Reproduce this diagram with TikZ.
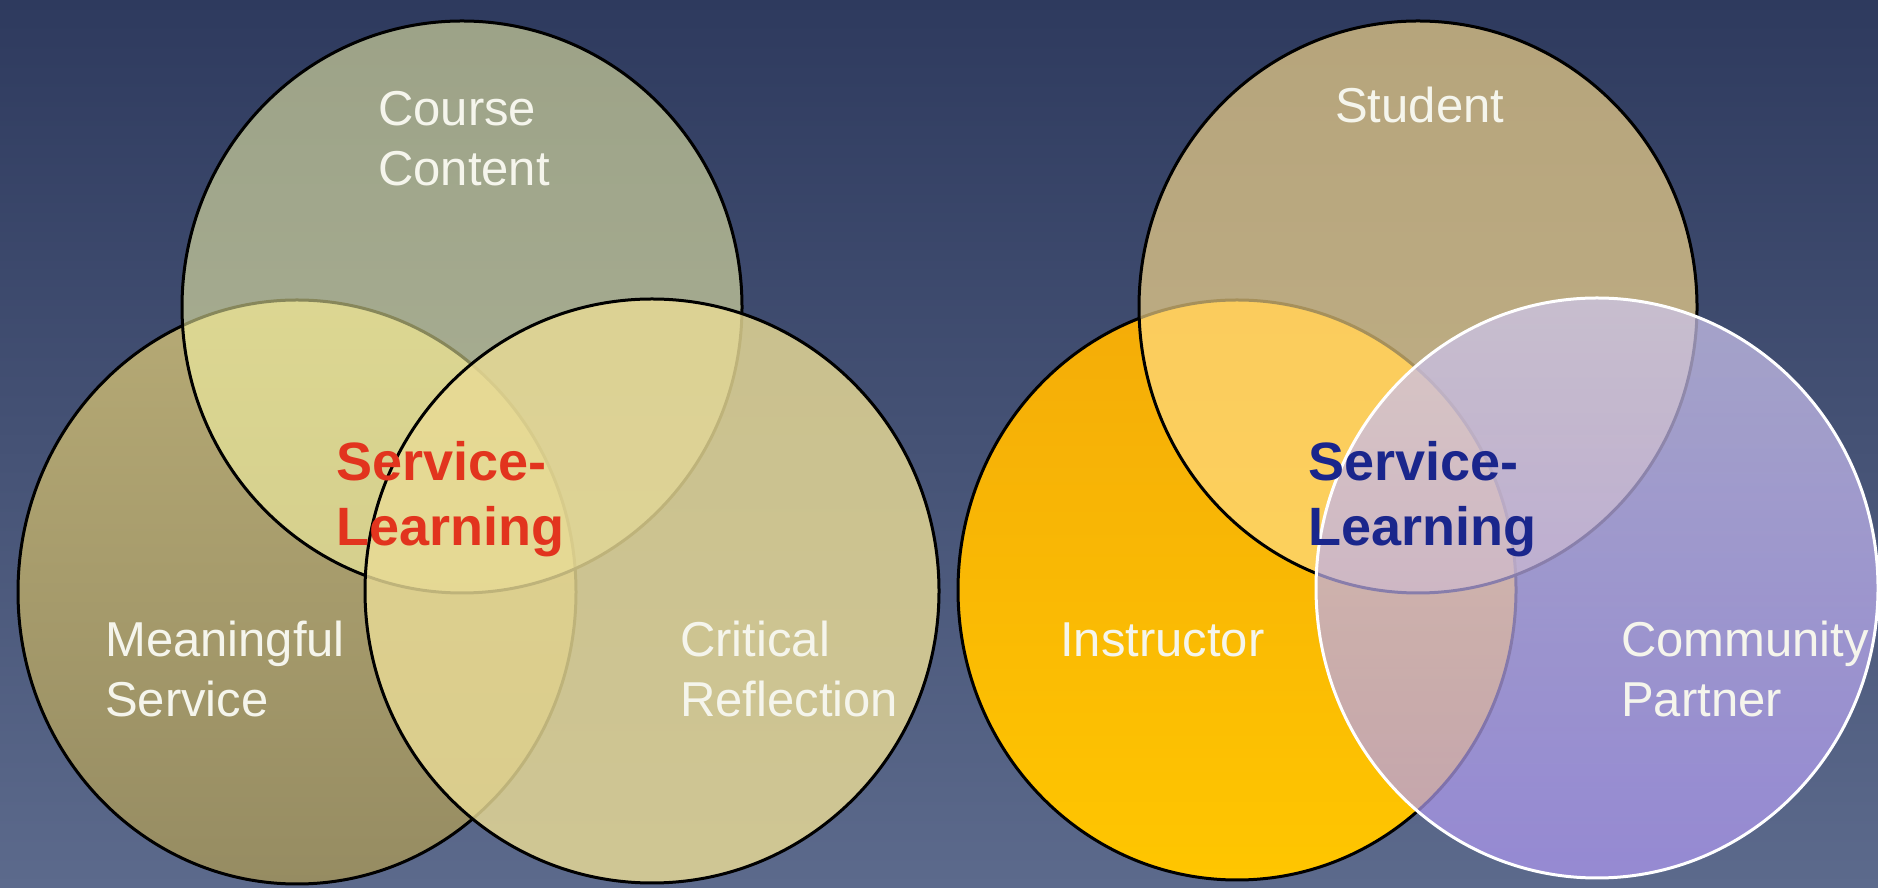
\documentclass[tikz,border=0pt]{standalone}
\usepackage{fontspec}
\setmainfont{Liberation Sans}
\definecolor{bgtop}{RGB}{46,58,94}
\definecolor{bgbot}{RGB}{92,106,140}
\definecolor{blTop}{RGB}{182,170,117}
\definecolor{blBot}{RGB}{150,140,98}
\definecolor{topc}{RGB}{255,255,172}
\definecolor{brc}{RGB}{233,219,150}
\definecolor{instTop}{RGB}{244,172,8}
\definecolor{instBot}{RGB}{255,198,0}
\definecolor{stud}{RGB}{255,222,140}
\definecolor{comTop}{RGB}{205,198,236}
\definecolor{comBot}{RGB}{172,150,238}
\definecolor{labelwhite}{RGB}{245,245,236}
\definecolor{slred}{RGB}{226,52,30}
\definecolor{slblue}{RGB}{26,38,140}
\begin{document}
\begin{tikzpicture}[x=1pt,y=1pt,
  lbl/.style={text=labelwhite, inner sep=0pt, anchor=base west, font=\fontsize{49}{60}\selectfont},
  slbl/.style={inner sep=0pt, anchor=base west, font=\bfseries\fontsize{54}{65}\selectfont},
  ring/.style={line width=3pt},
  glowring/.style={fill=white, fill opacity=0.0045}]
\useasboundingbox (0,0) rectangle (1878,888);
\shade[top color=bgtop, bottom color=bgbot] (0,0) rectangle (1878,888);
% soft glow round the lower part of the lower circles
\foreach \j in {1,...,10} {
  \begin{scope}
  \clip (0,0) rectangle (1878,{36*\j});
  \foreach \cx/\cy/\rx/\ry in {297/296/279/292, 652/297/287/292, 1237/298/279/290, 1597/300/281/290} {
    \foreach \k in {1,...,6} {
      \path[glowring] (\cx,\cy-12) ellipse [x radius={\rx pt+\k*5pt}, y radius={\ry pt+\k*5pt}];
    }
  }
  \end{scope}
}
% left diagram
\path[ring, draw=black, top color=blTop, bottom color=blBot] (297,296) ellipse [x radius=279pt, y radius=292pt];
\path[ring, draw=black, fill=topc, fill opacity=0.53] (462,581) ellipse [x radius=280pt, y radius=286pt];
\path[ring, draw=black, fill=brc, fill opacity=0.82] (652,297) ellipse [x radius=287pt, y radius=292pt];
% right diagram
\path[ring, draw=black, top color=instTop, bottom color=instBot] (1237,298) ellipse [x radius=279pt, y radius=290pt];
\path[ring, draw=black, fill=stud, fill opacity=0.65] (1418,581) ellipse [x radius=279pt, y radius=286pt];
\path[ring, draw=white, top color=comTop, bottom color=comBot, fill opacity=0.72] (1597,300) ellipse [x radius=281pt, y radius=290pt];
% labels
\node[lbl] (course) at (378,762) {\begin{tabular}[t]{@{}l@{}}Course\\Content\end{tabular}};
\node[lbl] (meaning) at (105,231) {\begin{tabular}[t]{@{}l@{}}Meaningful\\Service\end{tabular}};
\node[lbl] (critical) at (680,231) {\begin{tabular}[t]{@{}l@{}}Critical\\Reflection\end{tabular}};
\node[slbl, text=slred] (slleft) at (336,407) {\begin{tabular}[t]{@{}l@{}}Service-\\Learning\end{tabular}};
\node[lbl] (student) at (1335,765) {Student};
\node[lbl] (instructor) at (1060,231) {Instructor};
\node[lbl] (community) at (1621,231) {\begin{tabular}[t]{@{}l@{}}Community\\Partner\end{tabular}};
\node[slbl, text=slblue] (slright) at (1308,407) {\begin{tabular}[t]{@{}l@{}}Service-\\Learning\end{tabular}};
\end{tikzpicture}
\end{document}
